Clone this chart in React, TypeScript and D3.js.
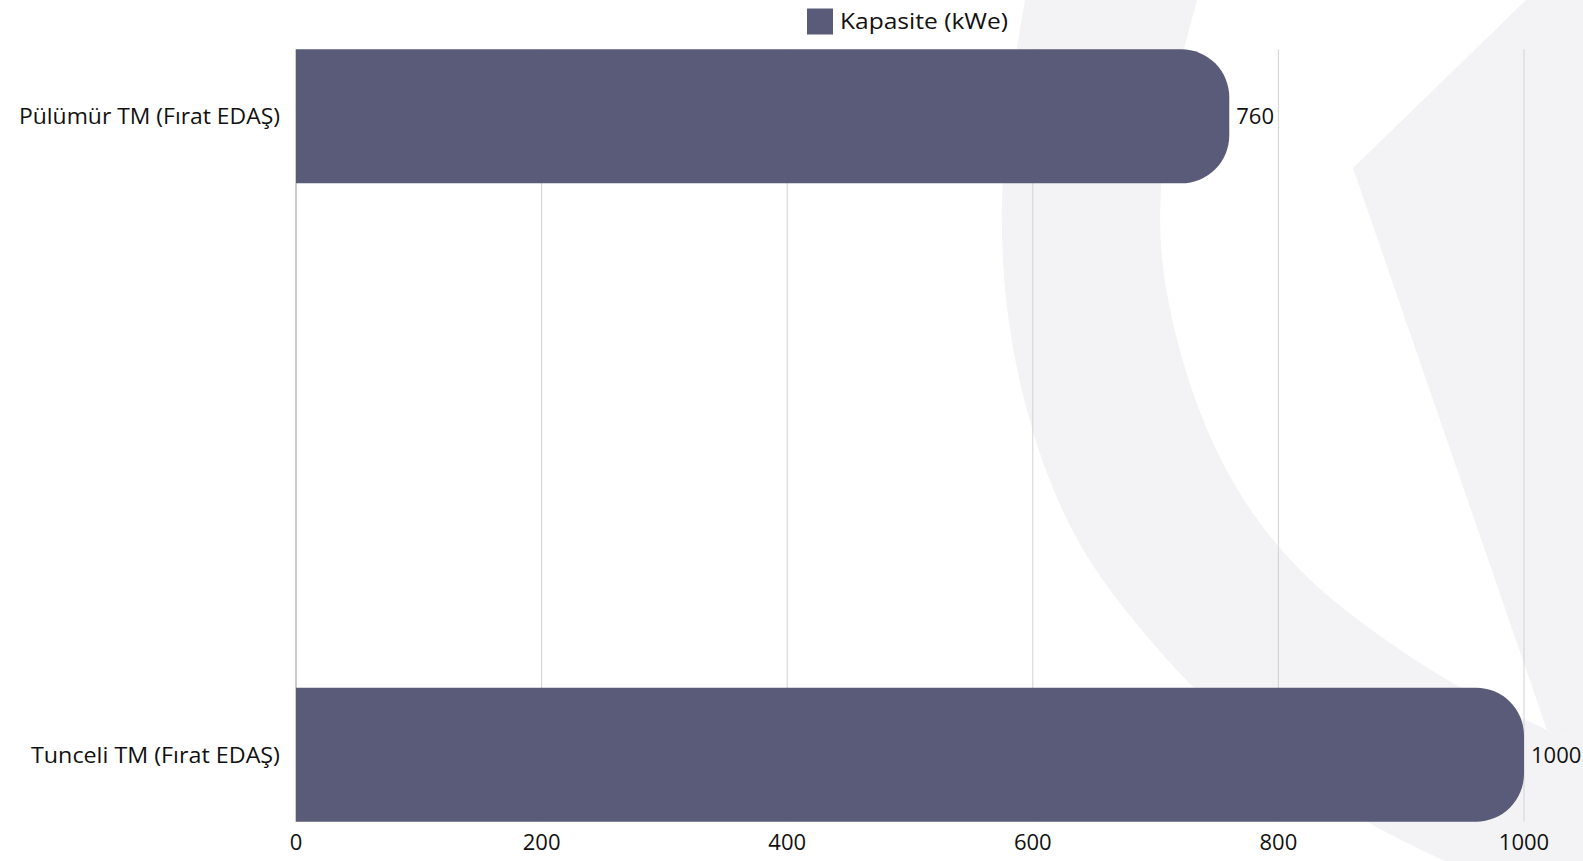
import React from "react";
import * as d3 from "d3";

const categories: string[] = ["Pülümür TM (Fırat EDAŞ)", "Tunceli TM (Fırat EDAŞ)"];
const capacity: number[] = [760, 1000];
const xTicks: number[] = [0, 200, 400, 600, 800, 1000];
const seriesName = "Kapasite (kWe)";

const W = 1583;
const H = 861;
const FONT = "'Open Sans', 'Noto Sans', sans-serif";
const BAR = "#5a5b78";
const WM = "#f3f3f5";
const labelWidths: number[] = [261, 249];

// decorative watermark outline points
const bandOuter: [number, number][] = [
  [1025, 0], [1008, 100], [1000, 200], [1004, 300], [1020, 390], [1047, 480], [1085, 558],
  [1134, 622], [1191, 688], [1280, 768], [1365, 823], [1445, 861],
];
const bandInner: [number, number][] = [
  [1547, 730], [1453, 687], [1345, 613], [1280, 553], [1225, 475], [1186, 380],
  [1162, 280], [1158, 200], [1170, 100], [1197, 0],
];
const kArm: [number, number][] = [[1526, 0], [1583, 0], [1583, 740], [1547, 730], [1353, 168]];

export default function App() {
  const x = d3.scaleLinear().domain([0, 1000]).range([296, 1524]);
  const y = d3.scaleBand<string>().domain(categories).range([49.3, 821.7]).paddingInner(0.79).paddingOuter(0);
  const bw = y.bandwidth();
  const r = 48;

  const curve = d3.line<[number, number]>().curve(d3.curveBasis);
  const outerPath = curve(bandOuter) as string;
  const innerPath = (curve(bandInner) as string).replace(/^M/, "L");
  const bandPath = `${outerPath} L${W},${H} L${W},740 ${innerPath} Z`;
  const armPath = (d3.line()(kArm) as string) + "Z";

  const barPath = (v: number, cat: string) => {
    const x0 = x(0);
    const x1 = x(v);
    const y0 = y(cat) as number;
    const y1 = y0 + bw;
    const rr = Math.min(r, (x1 - x0), bw / 2);
    const p = d3.path();
    p.moveTo(x0, y0);
    p.lineTo(x1 - rr, y0);
    p.arcTo(x1, y0, x1, y0 + rr, rr);
    p.lineTo(x1, y1 - rr);
    p.arcTo(x1, y1, x1 - rr, y1, rr);
    p.lineTo(x0, y1);
    p.closePath();
    return p.toString();
  };

  const [top, bottom] = y.range();

  return (
    <svg width={W} height={H} style={{ position: "absolute", left: 0, top: 0, display: "block", background: "#ffffff" }}>
      <g>
        <path d={bandPath} fill={WM} />
        <path d={armPath} fill={WM} />
      </g>
      <g>
        {xTicks.map((t) => (
          <line key={t} x1={x(t)} x2={x(t)} y1={top} y2={bottom} stroke={t === 0 ? "#999999" : "#d2d2d2"} strokeWidth={1} />
        ))}
      </g>
      <g>
        {categories.map((c, i) => (
          <path key={c} d={barPath(capacity[i], c)} fill={BAR} />
        ))}
      </g>
      <g fontFamily={FONT} fontSize={22} fill="#111111">
        {categories.map((c, i) => {
          const cy = (y(c) as number) + bw / 2;
          return (
            <g key={c}>
              <text x={280} y={cy + 8} textAnchor="end" textLength={labelWidths[i]} lengthAdjust="spacingAndGlyphs">{c}</text>
              <text x={x(capacity[i]) + 7} y={cy + 8}>{capacity[i]}</text>
            </g>
          );
        })}
        {xTicks.map((t) => (
          <text key={t} x={x(t)} y={850} textAnchor="middle">{t}</text>
        ))}
      </g>
      <g fontFamily={FONT} fontSize={22} fill="#111111">
        <rect x={807} y={8.5} width={26} height={26} fill={BAR} />
        <text x={840} y={28.5} textLength={168} lengthAdjust="spacingAndGlyphs">{seriesName}</text>
      </g>
    </svg>
  );
}
